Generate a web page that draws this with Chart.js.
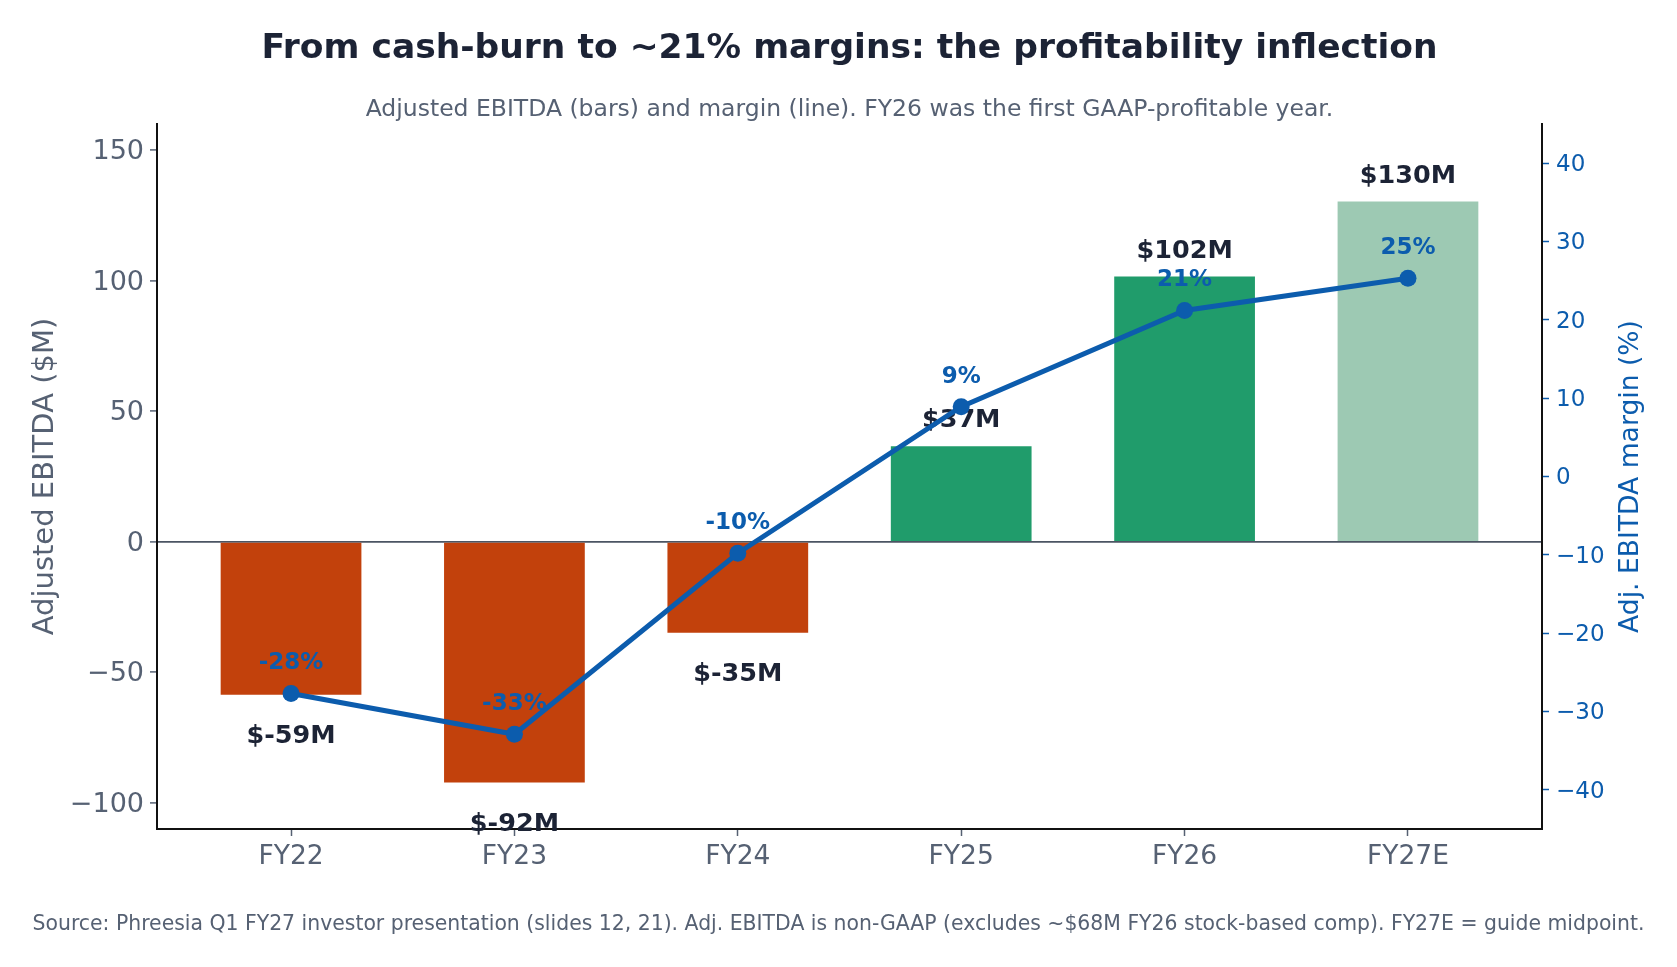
<!DOCTYPE html>
<html>
<head>
<meta charset="utf-8">
<script src="https://cdn.jsdelivr.net/npm/chart.js@4.4.1/dist/chart.umd.min.js"></script>
<style>
  html, body { margin: 0; padding: 0; background: #ffffff; }
  #wrap { position: relative; width: 1677px; height: 967px; }
</style>
</head>
<body>
<div id="wrap"><canvas id="c" width="1677" height="967"></canvas></div>
<script>
// ---- data ----
const categories = ['FY22', 'FY23', 'FY24', 'FY25', 'FY26', 'FY27E'];
const ebitda = [-58.6, -92.2, -34.8, 36.6, 101.6, 130.3];      // $M
const margin = [-27.7, -32.9, -9.8, 8.9, 21.2, 25.3];          // %
const barColors = ['#c2410c', '#c2410c', '#c2410c', '#209c6b', '#209c6b', '#9dc9b3'];
const leftTicks = [-100, -50, 0, 50, 100, 150];
const rightTicks = [-40, -30, -20, -10, 0, 10, 20, 30, 40];

const titleText = 'From cash-burn to ~21% margins: the profitability inflection';
const subtitleText = 'Adjusted EBITDA (bars) and margin (line). FY26 was the first GAAP-profitable year.';
const footerText = 'Source: Phreesia Q1 FY27 investor presentation (slides 12, 21). Adj. EBITDA is non-GAAP (excludes ~$68M FY26 stock-based comp). FY27E = guide midpoint.';
const leftTitle = 'Adjusted EBITDA ($M)';
const rightTitle = 'Adj. EBITDA margin (%)';

const FONT = "'DejaVu Sans', sans-serif";
const DARK = '#1c2335';
const GRAY = '#566173';
const BLUE = '#0c5cad';

const textPlugin = {
  id: 'textPlugin',
  beforeDraw(chart) {
    const ctx = chart.ctx;
    ctx.save();
    ctx.fillStyle = '#ffffff';
    ctx.fillRect(0, 0, chart.width, chart.height);
    ctx.restore();
  },
  afterDatasetDraw(chart, args) {
    const ctx = chart.ctx;
    const meta = args.meta;
    ctx.save();
    ctx.textAlign = 'center';
    ctx.textBaseline = 'middle';
    if (args.index === 0) {
      ctx.font = `bold 25.5px ${FONT}`;
      ctx.fillStyle = DARK;
      meta.data.forEach((el, i) => {
        const v = ebitda[i];
        const y = v >= 0 ? el.y - 25.5 : el.y + 41.5;
        ctx.fillText(`$${Math.round(v)}M`, el.x, y);
      });
    } else {
      ctx.font = `bold 23px ${FONT}`;
      ctx.fillStyle = BLUE;
      meta.data.forEach((el, i) => {
        ctx.fillText(`${Math.round(margin[i])}%`, el.x, el.y - 30);
      });
    }
    ctx.restore();
  },
  afterDraw(chart) {
    const ctx = chart.ctx;
    const a = chart.chartArea;
    const cx = (a.left + a.right) / 2;
    const cy = (a.top + a.bottom) / 2;
    ctx.save();
    ctx.textAlign = 'center';
    ctx.textBaseline = 'middle';
    ctx.fillStyle = DARK;
    ctx.font = `bold 34.5px ${FONT}`;
    ctx.fillText(titleText, cx, 49);
    ctx.fillStyle = GRAY;
    ctx.font = `23.5px ${FONT}`;
    ctx.fillText(subtitleText, cx, 110);
    ctx.font = `20.4px ${FONT}`;
    ctx.fillText(footerText, chart.width / 2, 925);

    ctx.font = `29px ${FONT}`;
    ctx.fillStyle = GRAY;
    ctx.translate(45, cy);
    ctx.rotate(-Math.PI / 2);
    ctx.fillText(leftTitle, 0, 0);
    ctx.restore();

    ctx.save();
    ctx.textAlign = 'center';
    ctx.textBaseline = 'middle';
    ctx.font = `26.6px ${FONT}`;
    ctx.fillStyle = BLUE;
    ctx.translate(1631, cy);
    ctx.rotate(-Math.PI / 2);
    ctx.fillText(rightTitle, 0, 0);
    ctx.restore();
  }
};

new Chart(document.getElementById('c'), {
  data: {
    datasets: [
      {
        type: 'bar',
        label: 'Adjusted EBITDA ($M)',
        data: ebitda.map((v, i) => ({ x: i, y: v })),
        backgroundColor: barColors,
        borderWidth: 0,
        barPercentage: 0.63,
        categoryPercentage: 1,
        yAxisID: 'y',
        order: 2
      },
      {
        type: 'line',
        label: 'Adj. EBITDA margin (%)',
        data: margin.map((v, i) => ({ x: i, y: v })),
        borderColor: BLUE,
        backgroundColor: BLUE,
        borderWidth: 5,
        pointRadius: 8.5,
        pointBackgroundColor: BLUE,
        pointBorderWidth: 0,
        tension: 0,
        yAxisID: 'y1',
        order: 1
      }
    ]
  },
  options: {
    responsive: false,
    animation: false,
    events: [],
    layout: { padding: { top: 124, left: 0, right: 0, bottom: 0 } },
    plugins: {
      legend: { display: false },
      tooltip: { enabled: false },
      title: { display: false }
    },
    scales: {
      x: {
        type: 'linear',
        offset: false,
        min: -0.6,
        max: 5.6,
        afterBuildTicks: (axis) => { axis.ticks = categories.map((c, i) => ({ value: i })); },
        afterFit: (axis) => { axis.height = 138; },
        ticks: {
          callback: (v) => categories[v] ?? '',
          color: GRAY,
          font: { family: FONT, size: 26.5 },
          padding: 5,
          maxRotation: 0,
          autoSkip: false
        },
        grid: { offset: false, drawOnChartArea: false, tickLength: 7, tickColor: GRAY, tickWidth: 1.5 },
        border: { display: true, color: '#111111', width: 2 }
      },
      y: {
        type: 'linear',
        position: 'left',
        min: -110,
        max: 160,
        afterBuildTicks: (axis) => { axis.ticks = leftTicks.map(v => ({ value: v })); },
        afterFit: (axis) => { axis.width = 157; },
        ticks: {
          color: GRAY,
          font: { family: FONT, size: 27 },
          padding: 6,
          labelOffset: 2,
          callback: (v) => (v < 0 ? '\u2212' + Math.abs(v) : String(v))
        },
        grid: {
          drawOnChartArea: true,
          color: (c) => (c.tick && c.tick.value === 0 ? '#4b5563' : 'rgba(0,0,0,0)'),
          lineWidth: 1.8,
          tickLength: 7,
          tickColor: GRAY,
          tickWidth: 1.5
        },
        border: { display: true, color: '#111111', width: 2 }
      },
      y1: {
        type: 'linear',
        position: 'right',
        min: -45,
        max: 45,
        afterBuildTicks: (axis) => { axis.ticks = rightTicks.map(v => ({ value: v })); },
        afterFit: (axis) => { axis.width = 135; },
        ticks: {
          color: BLUE,
          font: { family: FONT, size: 23 },
          padding: 7,
          labelOffset: 2,
          callback: (v) => (v < 0 ? '\u2212' + Math.abs(v) : String(v))
        },
        grid: { drawOnChartArea: false, tickLength: 7, tickColor: BLUE, tickWidth: 1.5 },
        border: { display: true, color: '#111111', width: 2 }
      }
    }
  },
  plugins: [textPlugin]
});
</script>
</body>
</html>
